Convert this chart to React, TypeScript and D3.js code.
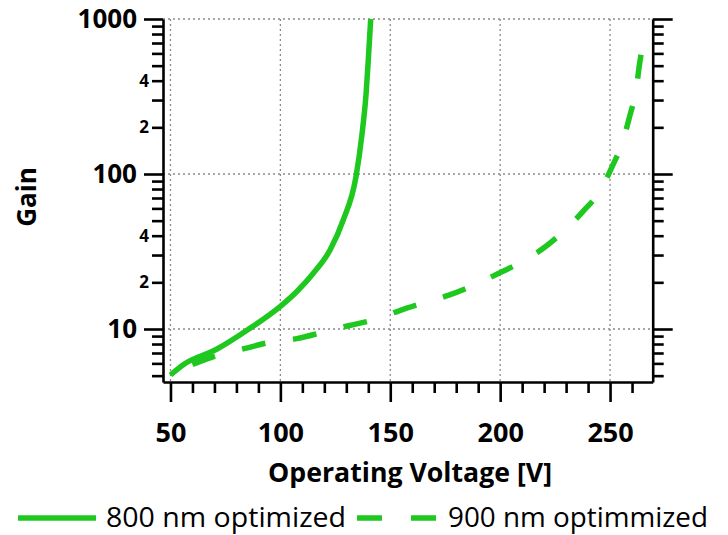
import { useEffect, useRef } from "react";
import * as d3 from "d3";

// tick values
const xMajorTicks = [50, 100, 150, 200, 250];
const xMinorTicks = [60, 70, 80, 90, 110, 120, 130, 140, 160, 170, 180, 190, 210, 220, 230, 240, 260];
const yMajorTicks = [10, 100, 1000];
const yMinorTicks = [5, 6, 7, 8, 9, 20, 30, 40, 50, 60, 70, 80, 90, 200, 300, 400, 500, 600, 700, 800, 900];
const yLabelledMinor = [20, 40, 200, 400];

// 800 nm optimized (solid)
const volt800 = [50, 56, 71, 85, 100, 107.4, 115, 122.6, 128.6, 134.4, 137, 139, 140, 141.1];
const gain800 = [5.05, 5.9, 7.4, 9.85, 14, 17.4, 22.9, 32.3, 50.5, 96, 174, 331, 543, 1000];

// 900 nm optimmized (dashed)
const volt900 = [60, 72, 84, 95, 108, 119, 131, 142, 154, 165, 177, 188, 200, 210, 221, 229, 238, 245, 251, 255.5, 259, 261.7, 263.5, 266];
const gain900 = [5.9, 6.8, 7.5, 8.2, 8.7, 9.5, 10.5, 11.4, 13.1, 14.7, 16.6, 19.2, 23.1, 27.2, 34.3, 42.8, 58, 76, 112, 158, 238, 340, 522, 820];

const legendLabels = ["800 nm optimized", "900 nm optimmized"];

const GREEN = "#1ec81e";
const FONT = "'Open Sans', sans-serif";

const Chart = () => {
  const ref = useRef<SVGSVGElement | null>(null);

  useEffect(() => {
    const svg = d3.select(ref.current);
    svg.selectAll("*").remove();

    const left = 163;
    const right = 652.7;
    const top = 19;
    const bottom = 382;

    const x = d3.scaleLinear().domain([46.6, 269.4]).range([left, right]);
    const y = d3.scaleLog().domain([4.55, 1000]).range([bottom, top]);

    // grid
    const grid = svg.append("g").attr("stroke", "#8a8a8a").attr("stroke-width", 1.3).attr("stroke-dasharray", "2,3");
    grid
      .selectAll(".gx")
      .data(xMajorTicks)
      .enter()
      .append("line")
      .attr("x1", d => x(d))
      .attr("x2", d => x(d))
      .attr("y1", top)
      .attr("y2", bottom);
    grid
      .selectAll(".gy")
      .data(yMajorTicks)
      .enter()
      .append("line")
      .attr("x1", left)
      .attr("x2", right)
      .attr("y1", d => y(d))
      .attr("y2", d => y(d));

    const styleAxis = (g: any, size: number) => {
      g.selectAll("line").attr("stroke", "#000").attr("stroke-width", 2.6);
      g.selectAll("path").attr("stroke", "#000").attr("stroke-width", 2.6);
      g.selectAll("text")
        .attr("fill", "#000")
        .style("font-family", FONT)
        .style("font-weight", "bold")
        .style("font-size", `${size}px`);
    };

    // left axis
    svg
      .append("g")
      .attr("transform", `translate(${left},0)`)
      .call(
        d3
          .axisLeft(y)
          .tickValues(yMinorTicks)
          .tickSize(11)
          .tickPadding(3)
          .tickFormat(d => (yLabelledMinor.includes(d as number) ? String(d).charAt(0) : ""))
      )
      .call(g => g.select(".domain").remove())
      .call(g => styleAxis(g, 17));
    svg
      .append("g")
      .attr("transform", `translate(${left},0)`)
      .call(d3.axisLeft(y).tickValues(yMajorTicks).tickSize(19).tickSizeOuter(0).tickPadding(7).tickFormat(d3.format("d")))
      .call(g => styleAxis(g, 26));

    // right axis
    svg
      .append("g")
      .attr("transform", `translate(${right},0)`)
      .call(d3.axisRight(y).tickValues(yMinorTicks).tickSize(11).tickFormat(() => ""))
      .call(g => g.select(".domain").remove())
      .call(g => styleAxis(g, 17));
    svg
      .append("g")
      .attr("transform", `translate(${right},0)`)
      .call(d3.axisRight(y).tickValues(yMajorTicks).tickSize(20).tickSizeOuter(0).tickFormat(() => ""))
      .call(g => styleAxis(g, 17));

    // bottom axis
    svg
      .append("g")
      .attr("transform", `translate(0,${bottom})`)
      .call(d3.axisBottom(x).tickValues(xMinorTicks).tickSize(11).tickFormat(() => ""))
      .call(g => g.select(".domain").remove())
      .call(g => styleAxis(g, 17));
    svg
      .append("g")
      .attr("transform", `translate(0,${bottom})`)
      .call(d3.axisBottom(x).tickValues(xMajorTicks).tickSize(20).tickSizeOuter(0).tickPadding(21).tickFormat(d3.format("d")))
      .call(g => styleAxis(g, 27));

    // curves
    const line = (vs: number[], gs: number[]) =>
      d3
        .line<number>()
        .x(d => x(vs[d]))
        .y(d => y(gs[d]))
        .curve(d3.curveMonotoneX)(d3.range(vs.length));

    svg
      .append("path")
      .attr("d", line(volt800, gain800))
      .attr("fill", "none")
      .attr("stroke", GREEN)
      .attr("stroke-width", 5.5);

    svg
      .append("path")
      .attr("d", line(volt900, gain900))
      .attr("fill", "none")
      .attr("stroke", GREEN)
      .attr("stroke-width", 5.5)
      .attr("stroke-dasharray", "24,28");

    // axis titles
    svg
      .append("text")
      .attr("transform", "translate(36,197) rotate(-90)")
      .attr("text-anchor", "middle")
      .style("font-family", FONT)
      .style("font-weight", "bold")
      .style("font-size", "26px")
      .text("Gain");

    svg
      .append("text")
      .attr("x", 268)
      .attr("y", 482)
      .attr("textLength", 284)
      .attr("lengthAdjust", "spacingAndGlyphs")
      .style("font-family", FONT)
      .style("font-weight", "bold")
      .style("font-size", "26px")
      .text("Operating Voltage [V]");

    // legend
    const ly = 518;
    svg.append("line").attr("x1", 18).attr("x2", 96).attr("y1", ly).attr("y2", ly).attr("stroke", GREEN).attr("stroke-width", 5.5);
    svg
      .append("line")
      .attr("x1", 357)
      .attr("x2", 437)
      .attr("y1", ly)
      .attr("y2", ly)
      .attr("stroke", GREEN)
      .attr("stroke-width", 5.5)
      .attr("stroke-dasharray", "25,29");

    const legendX = [106, 448];
    const legendW = [240, 260];
    legendLabels.forEach((lab, i) => {
      svg
        .append("text")
        .attr("x", legendX[i])
        .attr("y", 527)
        .attr("textLength", legendW[i])
        .attr("lengthAdjust", "spacingAndGlyphs")
        .style("font-family", FONT)
        .style("font-size", "27px")
        .attr("fill", "#000")
        .text(lab);
    });
  }, []);

  return <svg ref={ref} width={728} height={535} style={{ position: "absolute", left: 0, top: 0, background: "#fff" }} />;
};

export default function App() {
  return <Chart />;
}
